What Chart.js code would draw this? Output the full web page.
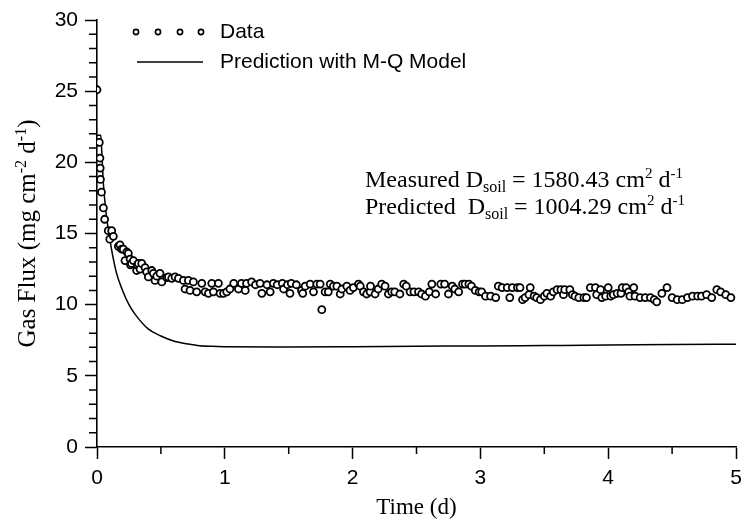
<!DOCTYPE html>
<html>
<head>
<meta charset="utf-8">
<script src="https://cdn.jsdelivr.net/npm/chart.js@4.4.0/dist/chart.umd.min.js"></script>
<style>
  html, body { margin: 0; padding: 0; background: #fff; }
  #wrap { width: 742px; height: 524px; }
</style>
</head>
<body>
<div id="wrap"><canvas id="fluxChart" width="742" height="524"></canvas></div>
<script>
// measured gas flux (time in days, flux in mg cm-2 d-1)
var dataTime = [
    0.000, 0.018, 0.023, 0.025, 0.027, 0.035, 0.050, 0.060, 0.088, 0.100,
    0.115, 0.128, 0.167, 0.180, 0.193, 0.206, 0.219, 0.233, 0.245, 0.259,
    0.262, 0.270, 0.285, 0.310, 0.316, 0.324, 0.337, 0.350, 0.376, 0.389,
    0.402, 0.429, 0.441, 0.454, 0.468, 0.493, 0.507, 0.546, 0.559, 0.585,
    0.611, 0.637, 0.676, 0.689, 0.715, 0.728, 0.754, 0.780, 0.820, 0.846,
    0.872, 0.898, 0.911, 0.950, 0.963, 0.990, 1.015, 1.040, 1.070, 1.107,
    1.130, 1.160, 1.170, 1.210, 1.240, 1.276, 1.290, 1.330, 1.355, 1.380,
    1.410, 1.450, 1.460, 1.490, 1.510, 1.520, 1.560, 1.600, 1.610, 1.629,
    1.668, 1.694, 1.720, 1.746, 1.759, 1.785, 1.810, 1.825, 1.850, 1.877,
    1.903, 1.916, 1.955, 1.980, 2.006, 2.046, 2.060, 2.085, 2.110, 2.137,
    2.140, 2.176, 2.200, 2.228, 2.254, 2.280, 2.306, 2.330, 2.370, 2.400,
    2.420, 2.450, 2.480, 2.516, 2.540, 2.570, 2.600, 2.620, 2.650, 2.690,
    2.720, 2.750, 2.780, 2.800, 2.830, 2.860, 2.880, 2.910, 2.930, 2.960,
    2.990, 3.010, 3.040, 3.080, 3.120, 3.140, 3.170, 3.210, 3.230, 3.250,
    3.290, 3.310, 3.330, 3.350, 3.380, 3.390, 3.420, 3.440, 3.470, 3.500,
    3.520, 3.550, 3.570, 3.600, 3.630, 3.650, 3.660, 3.700, 3.720, 3.740,
    3.770, 3.810, 3.830, 3.860, 3.900, 3.910, 3.940, 3.950, 3.980, 4.000,
    4.020, 4.040, 4.070, 4.100, 4.110, 4.140, 4.160, 4.170, 4.200, 4.210,
    4.250, 4.290, 4.330, 4.360, 4.380, 4.420, 4.460, 4.500, 4.540, 4.580,
    4.620, 4.660, 4.700, 4.730, 4.770, 4.810, 4.850, 4.880, 4.920, 4.960
];
var dataFlux = [
    25.1, 21.4, 20.3, 19.6, 18.8, 17.9, 16.8, 16.0, 15.2, 14.6,
    15.2, 14.8, 14.1, 14.2, 13.9, 13.9, 13.1, 13.7, 13.6, 13.2,
    12.8, 12.9, 13.1, 12.4, 12.8, 12.9, 12.5, 12.9, 12.6, 12.3,
    11.95, 12.4, 12.2, 11.7, 12.0, 12.2, 11.6, 11.9, 11.95, 11.85,
    11.95, 11.85, 11.7, 11.1, 11.7, 11.0, 11.6, 10.9, 11.5, 10.9,
    10.8, 11.5, 10.9, 11.5, 10.8, 10.8, 10.9, 11.1, 11.5, 11.1,
    11.5, 11.0, 11.5, 11.6, 11.4, 11.5, 10.8, 11.4, 10.9, 11.5,
    11.4, 11.5, 11.1, 11.4, 10.8, 11.5, 11.4, 11.0, 10.8, 11.3,
    11.45, 10.9, 11.45, 11.45, 9.65, 10.9, 10.9, 11.45, 11.3, 11.3,
    10.75, 11.1, 11.3, 11.0, 11.2, 11.45, 11.3, 10.9, 10.75, 10.9,
    11.3, 10.75, 11.1, 11.45, 11.3, 10.75, 10.9, 10.9, 10.75, 11.45,
    11.3, 10.9, 10.9, 10.9, 10.75, 10.6, 10.9, 11.45, 10.75, 11.45,
    11.45, 10.75, 11.3, 11.1, 10.9, 11.45, 11.45, 11.45, 11.3, 11.0,
    10.9, 10.9, 10.6, 10.6, 10.5, 11.3, 11.2, 11.2, 10.5, 11.2,
    11.2, 11.2, 10.35, 10.5, 10.7, 11.2, 10.6, 10.5, 10.35, 10.6,
    10.8, 10.6, 10.9, 11.05, 11.05, 10.7, 11.05, 11.05, 10.7, 10.6,
    10.5, 10.5, 10.5, 11.2, 11.2, 10.7, 11.05, 10.5, 10.6, 11.2,
    10.6, 10.7, 10.8, 10.8, 11.2, 11.2, 10.9, 10.6, 11.2, 10.6,
    10.5, 10.5, 10.5, 10.35, 10.2, 10.8, 11.2, 10.5, 10.35, 10.35,
    10.5, 10.6, 10.6, 10.6, 10.7, 10.5, 11.05, 10.9, 10.7, 10.5
];

// M-Q model prediction
var modelTime = [0.0, 0.03, 0.037, 0.05, 0.076, 0.10, 0.15, 0.20, 0.25, 0.30,
                 0.40, 0.50, 0.60, 0.70, 0.80, 0.90, 1.0, 1.5, 2.0, 2.5,
                 3.0, 3.5, 4.0, 4.5, 5.0];
var modelFlux = [21.9, 21.9, 20.8, 18.5, 16.1, 14.6, 12.3, 11.0, 10.0, 9.3,
                 8.3, 7.8, 7.45, 7.25, 7.12, 7.07, 7.05, 7.03, 7.05, 7.08,
                 7.1, 7.13, 7.16, 7.2, 7.22];

var xTicks = [0, 1, 2, 3, 4, 5];
var yTicks = [0, 5, 10, 15, 20, 25, 30];

var serif = '"Liberation Serif", "Times New Roman", serif';
var sans = '"Liberation Sans", Arial, Helvetica, sans-serif';

function toPoints(xs, ys) {
    var pts = [];
    for (var i = 0; i < xs.length; i++) pts.push({x: xs[i], y: ys[i]});
    return pts;
}

// draws text pieces with sub/superscripts one after another
function drawRuns(ctx, x, y, runs) {
    var cx = x;
    runs.forEach(function(r) {
        ctx.font = r.size + 'px ' + serif;
        ctx.fillText(r.t, cx, y + (r.dy || 0));
        cx += ctx.measureText(r.t).width;
    });
    return cx - x;
}
function runsWidth(ctx, runs) {
    var w = 0;
    runs.forEach(function(r) {
        ctx.font = r.size + 'px ' + serif;
        w += ctx.measureText(r.t).width;
    });
    return w;
}

var extras = {
    id: 'extras',
    afterDraw: function(chart) {
        var ctx = chart.ctx;
        var xs = chart.scales.x, ys = chart.scales.y;
        var area = chart.chartArea;
        ctx.save();
        ctx.strokeStyle = '#000';
        ctx.fillStyle = '#000';
        ctx.lineWidth = 1.5;

        // minor ticks
        ctx.beginPath();
        for (var v = 1; v < 30; v++) {
            if (v % 5 === 0) continue;
            var py = ys.getPixelForValue(v);
            ctx.moveTo(area.left - 8, py);
            ctx.lineTo(area.left, py);
        }
        for (var t = 0.5; t < 5; t += 1) {
            var px = xs.getPixelForValue(t);
            ctx.moveTo(px, area.bottom);
            ctx.lineTo(px, area.bottom + 7);
        }
        ctx.stroke();

        // legend
        ctx.lineWidth = 1.6;
        [136, 158, 180, 201].forEach(function(cx) {
            ctx.beginPath();
            ctx.arc(cx, 32, 2.6, 0, Math.PI * 2);
            ctx.fillStyle = '#fff';
            ctx.fill();
            ctx.stroke();
        });
        ctx.lineWidth = 1.5;
        ctx.beginPath();
        ctx.moveTo(137, 62);
        ctx.lineTo(203, 62);
        ctx.stroke();
        ctx.fillStyle = '#000';
        ctx.font = '21px ' + sans;
        ctx.textBaseline = 'middle';
        ctx.fillText('Data', 220, 32);
        ctx.fillText('Prediction with M-Q Model', 220, 62);

        // annotation
        ctx.textBaseline = 'alphabetic';
        drawRuns(ctx, 365, 187, [
            {t: 'Measured D', size: 24},
            {t: 'soil', size: 16, dy: 5},
            {t: ' = 1580.43 cm', size: 24},
            {t: '2', size: 15, dy: -9},
            {t: ' d', size: 24},
            {t: '-1', size: 15, dy: -9}
        ]);
        drawRuns(ctx, 365, 214, [
            {t: 'Predicted  D', size: 24},
            {t: 'soil', size: 16, dy: 5},
            {t: ' = 1004.29 cm', size: 24},
            {t: '2', size: 15, dy: -9},
            {t: ' d', size: 24},
            {t: '-1', size: 15, dy: -9}
        ]);

        // y axis title
        var yRuns = [
            {t: 'Gas Flux (mg cm', size: 25},
            {t: '-2', size: 16, dy: -9},
            {t: ' d', size: 25},
            {t: '-1', size: 16, dy: -9},
            {t: ')', size: 25}
        ];
        var w = runsWidth(ctx, yRuns);
        ctx.translate(35, (area.top + area.bottom) / 2);
        ctx.rotate(-Math.PI / 2);
        drawRuns(ctx, -w / 2, 0, yRuns);
        ctx.restore();
    }
};

var ctx = document.getElementById('fluxChart');
var fluxChart = new Chart(ctx, {
    type: 'scatter',
    data: {
        datasets: [{
            label: 'Data',
            data: toPoints(dataTime, dataFlux),
            pointStyle: 'circle',
            pointRadius: 3.5,
            pointBorderWidth: 1.8,
            borderColor: '#000',
            backgroundColor: '#fff',
            showLine: false,
            order: 1
        }, {
            label: 'Prediction with M-Q Model',
            type: 'line',
            data: toPoints(modelTime, modelFlux),
            showLine: true,
            fill: false,
            pointRadius: 0,
            borderColor: '#000',
            borderWidth: 1.5,
            cubicInterpolationMode: 'monotone',
            order: 2
        }]
    },
    options: {
        responsive: false,
        animation: false,
        devicePixelRatio: 1,
        layout: { padding: { top: 20, right: 6, bottom: 0, left: 0 } },
        plugins: {
            legend: { display: false },
            tooltip: { enabled: false }
        },
        scales: {
            x: {
                type: 'linear',
                min: 0,
                max: 5,
                afterBuildTicks: function(scale) {
                    scale.ticks = xTicks.map(function(v) { return {value: v}; });
                },
                afterFit: function(scale) {
                    scale.height = 77;
                    scale.paddingLeft = 0;
                    scale.paddingRight = 0;
                },
                grid: { drawOnChartArea: false, drawTicks: true, tickLength: 12, color: '#000', tickWidth: 1.5 },
                border: { display: true, color: '#000', width: 1.6 },
                ticks: { color: '#000', font: { family: sans, size: 21 }, padding: 7, maxRotation: 0 },
                title: { display: true, text: 'Time (d)', color: '#000', font: { family: serif, size: 23 }, padding: { top: 0, bottom: 2 } }
            },
            y: {
                type: 'linear',
                min: 0,
                max: 30,
                afterBuildTicks: function(scale) {
                    scale.ticks = yTicks.map(function(v) { return {value: v}; });
                },
                afterFit: function(scale) { scale.width = 97; },
                grid: { drawOnChartArea: false, drawTicks: true, tickLength: 12, color: '#000', tickWidth: 1.5 },
                border: { display: true, color: '#000', width: 1.6 },
                ticks: { color: '#000', font: { family: sans, size: 21 }, padding: 7 }
            }
        }
    },
    plugins: [extras]
});
</script>
</body>
</html>
